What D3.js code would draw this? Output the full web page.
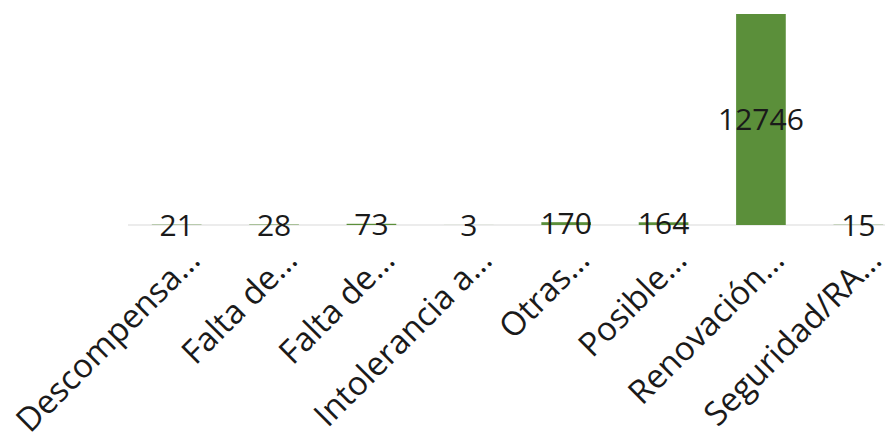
<!DOCTYPE html>
<html>
<head>
<meta charset="utf-8">
<script src="https://cdn.jsdelivr.net/npm/d3@7"></script>
<style>
  html, body { margin: 0; padding: 0; background: #fff; }
  svg { display: block; }
  text { font-family: "Open Sans", "Liberation Sans", sans-serif; fill: #1a1a1a; }
</style>
</head>
<body>
<svg id="chart" width="885" height="438"></svg>
<script>
// Motivos (etiquetas truncadas) y número de casos
const categories = [
  "Descompensa…",
  "Falta de…",
  "Falta de…",
  "Intolerancia a…",
  "Otras…",
  "Posible…",
  "Renovación…",
  "Seguridad/RA…"
];
const values = [21, 28, 73, 3, 170, 164, 12746, 15];

const width = 885, height = 438;
const svg = d3.select("#chart");

const ids = categories.map((c, i) => i);
const x = d3.scaleBand().domain(ids).range([128, 907]).paddingInner(0.49).paddingOuter(0.245);
const y = d3.scaleLinear().domain([0, d3.max(values)]).range([225, 14]);

const valueSize = 30;
const labelSize = 33;

// horizontal baseline
svg.append("line")
  .attr("x1", 128).attr("x2", width)
  .attr("y1", y(0)).attr("y2", y(0))
  .attr("stroke", "#d9d9d9").attr("stroke-width", 1);

// bars
svg.append("g").selectAll("rect").data(values).join("rect")
  .attr("x", (d, i) => x(i))
  .attr("width", x.bandwidth())
  .attr("y", d => y(d))
  .attr("height", d => y(0) - y(d))
  .attr("fill", "#5b8f3a");

// value labels, centred inside each bar
svg.append("g").selectAll("text").data(values).join("text")
  .attr("x", (d, i) => x(i) + x.bandwidth() / 2)
  .attr("y", d => (y(d) + y(0)) / 2)
  .attr("dy", "0.36em")
  .attr("text-anchor", "middle")
  .attr("font-size", valueSize)
  .text(d => d);

// rotated category labels
svg.append("g").selectAll("text").data(categories).join("text")
  .attr("transform", (d, i) => `translate(${x(i) + x.bandwidth() / 2 + 17},${y(0) + 29}) rotate(-45)`)
  .attr("text-anchor", "end")
  .attr("dy", "0.35em")
  .attr("font-size", labelSize)
  .text(d => d);
</script>
</body>
</html>
